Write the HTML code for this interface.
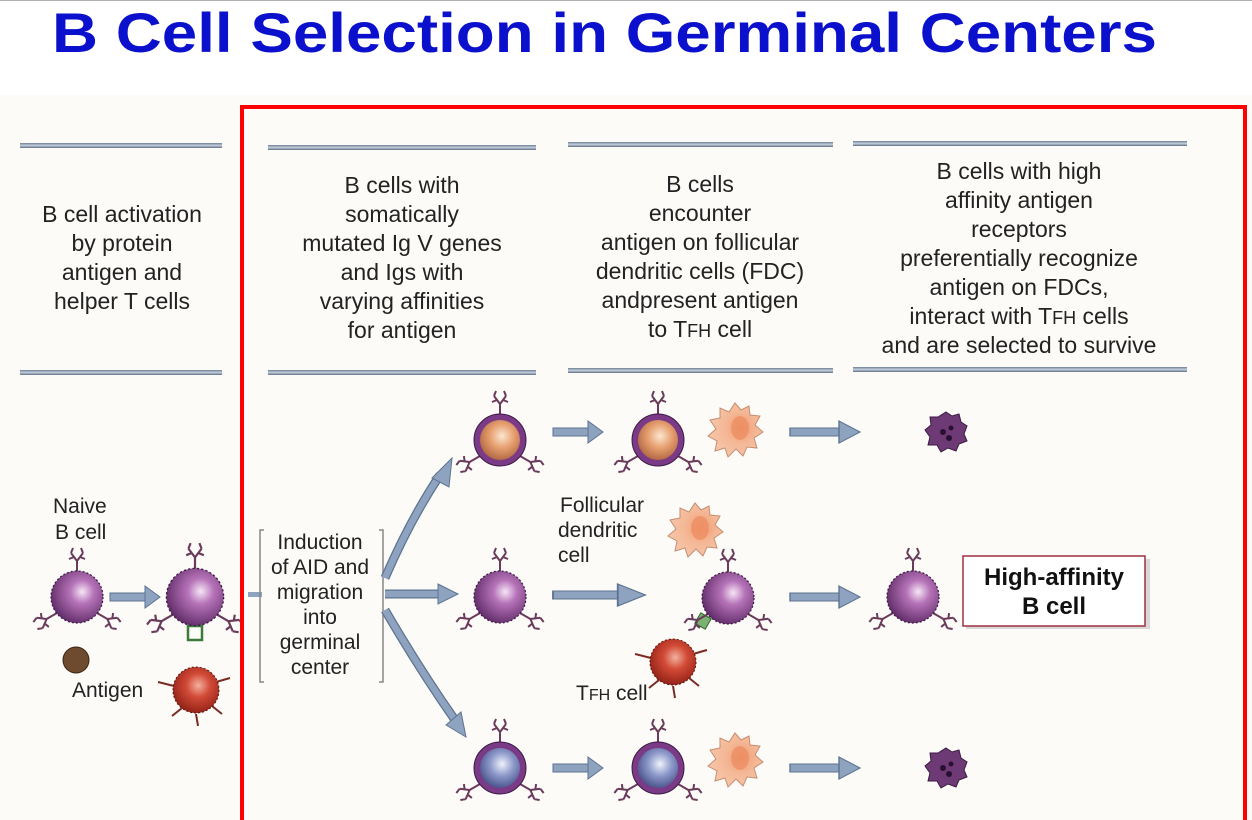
<!DOCTYPE html>
<html><head><meta charset="utf-8"><style>
html,body{margin:0;padding:0;background:#fff;}
body{width:1252px;height:820px;overflow:hidden;position:relative;font-family:"Liberation Sans",sans-serif;}
svg{position:absolute;left:0;top:0}
</style></head><body>
<svg width="1252" height="820" viewBox="0 0 1252 820" xmlns="http://www.w3.org/2000/svg">
<defs>
<radialGradient id="gp" cx="0.6" cy="0.4" r="0.65"><stop offset="0" stop-color="#f6e6f6"/><stop offset="0.35" stop-color="#b673b8"/><stop offset="1" stop-color="#5e2a66"/></radialGradient>
<radialGradient id="go" cx="0.55" cy="0.4" r="0.6"><stop offset="0" stop-color="#fbe6d0"/><stop offset="0.5" stop-color="#e7a070"/><stop offset="1" stop-color="#b46a45"/></radialGradient>
<radialGradient id="gb" cx="0.55" cy="0.4" r="0.6"><stop offset="0" stop-color="#f0f2fb"/><stop offset="0.5" stop-color="#8c98c9"/><stop offset="1" stop-color="#4d568e"/></radialGradient>
<radialGradient id="gr" cx="0.55" cy="0.4" r="0.65"><stop offset="0" stop-color="#f3b0a0"/><stop offset="0.4" stop-color="#d24a36"/><stop offset="1" stop-color="#8b1d14"/></radialGradient>
<radialGradient id="gf" cx="0.6" cy="0.45" r="0.6"><stop offset="0" stop-color="#f19a70"/><stop offset="0.5" stop-color="#f4b896"/><stop offset="1" stop-color="#f6c6aa"/></radialGradient>
<linearGradient id="bar" x1="0" y1="0" x2="0" y2="1"><stop offset="0" stop-color="#6d7f96"/><stop offset="0.5" stop-color="#c5cfdc"/><stop offset="1" stop-color="#5f6f85"/></linearGradient>
<g id="rec" fill="none" stroke="#6a3a5a" stroke-width="2">
<path d="M0 0 V-12 M0 -12 L-6 -20 M0 -12 L6 -20 M-3 -16 L-8 -14 M3 -16 L8 -14 M-6 -20 L-4 -25 M6 -20 L4 -25"/>
</g>
<g id="recs">
<use href="#rec" transform="translate(0,-24)"/>
<use href="#rec" transform="translate(-20,16) rotate(-120)"/>
<use href="#rec" transform="translate(20,16) rotate(120)"/>
</g>
<g id="cellp">
<use href="#recs"/>
<circle r="26" fill="url(#gp)" stroke="#3c1a44" stroke-width="1.2" stroke-dasharray="2 2"/>
</g>
<g id="cello">
<use href="#recs"/>
<circle r="26" fill="#7a3a86" stroke="#3c1a44" stroke-width="1"/>
<circle r="20" fill="url(#go)"/>
</g>
<g id="cellb">
<use href="#recs"/>
<circle r="26" fill="#7a3a86" stroke="#3c1a44" stroke-width="1"/>
<circle r="20" fill="url(#gb)"/>
</g>
<g id="fdc">
<path d="M0 -27 L6 -20 L14 -24 L15 -15 L25 -14 L20 -5 L28 2 L19 8 L22 18 L12 17 L8 26 L1 19 L-7 27 L-10 18 L-20 21 L-18 11 L-27 6 L-19 -1 L-25 -10 L-15 -12 L-15 -22 L-6 -18 Z" fill="url(#gf)" stroke="#c58d70" stroke-width="1"/>
<ellipse cx="5" cy="-2" rx="9" ry="12" fill="#ec8a60" opacity="0.7"/>
</g>
<g id="dead">
<path d="M0 -20 L6 -16 L13 -18 L15 -10 L21 -6 L18 2 L21 9 L13 12 L10 19 L2 16 L-5 20 L-9 13 L-18 13 L-16 5 L-21 -2 L-15 -7 L-16 -15 L-8 -15 Z" fill="#6e3a76" stroke="#3a1a40"/>
<circle cx="-3" cy="0" r="3" fill="#2a1030"/><circle cx="5" cy="-4" r="2.5" fill="#2a1030"/><circle cx="3" cy="6" r="3" fill="#2a1030"/>
</g>
<g id="tcell">
<path d="M-14 18 L-24 26 M0 24 L2 36 M16 16 L26 24 M-22 -4 L-38 -8 M20 -8 L34 -12" stroke="#7a2a22" stroke-width="2" fill="none"/>
<circle r="23" fill="url(#gr)" stroke="#5a140e" stroke-dasharray="2 2"/>
</g>
<g id="arr"><rect x="0" y="-4" width="38" height="8" fill="#8ea3bf" stroke="#5e7390" stroke-width="1"/><path d="M35 -11 L50 0 L35 11 Z" fill="#8ea3bf" stroke="#5e7390"/></g>
</defs>

<rect x="0" y="0" width="1252" height="820" fill="#ffffff"/>
<rect x="0" y="95" width="1252" height="725" fill="#fcfbf8"/>
<line x1="0" y1="0.5" x2="1252" y2="0.5" stroke="#b0b0b0"/>
<text x="52" y="52" textLength="1105" lengthAdjust="spacingAndGlyphs" font-family="Liberation Sans,sans-serif" font-weight="bold" font-size="56" fill="#0a10cc">B Cell Selection in Germinal Centers</text>

<g fill="url(#bar)">
<rect x="20" y="143" width="202" height="5"/><rect x="20" y="370" width="202" height="5"/>
<rect x="268" y="145" width="268" height="5"/><rect x="268" y="370" width="268" height="5"/>
<rect x="568" y="142" width="265" height="5"/><rect x="568" y="368" width="265" height="5"/>
<rect x="853" y="141" width="334" height="5"/><rect x="853" y="367" width="334" height="5"/>
</g>
<g font-family="Liberation Sans,sans-serif" font-size="23" fill="#222" text-anchor="middle">
<text x="122" y="222">B cell activation</text><text x="122" y="251">by protein</text><text x="122" y="280">antigen and</text><text x="122" y="309">helper T cells</text>
<text x="402" y="193">B cells with</text><text x="402" y="222">somatically</text><text x="402" y="251">mutated Ig V genes</text><text x="402" y="280">and Igs with</text><text x="402" y="309">varying affinities</text><text x="402" y="338">for antigen</text>
<text x="700" y="192">B cells</text><text x="700" y="221">encounter</text><text x="700" y="250">antigen on follicular</text><text x="700" y="279">dendritic cells (FDC)</text><text x="700" y="308">andpresent antigen</text><text x="700" y="337">to T<tspan font-size="18">FH</tspan> cell</text>
<text x="1019" y="179">B cells with high</text><text x="1019" y="208">affinity antigen</text><text x="1019" y="237">receptors</text><text x="1019" y="266">preferentially recognize</text><text x="1019" y="295">antigen on FDCs,</text><text x="1019" y="324">interact with T<tspan font-size="18">FH</tspan> cells</text><text x="1019" y="353">and are selected to survive</text>
</g>

<g font-family="Liberation Sans,sans-serif" font-size="21" fill="#222">
<text x="53" y="513">Naive</text><text x="55" y="539">B cell</text>
<text x="72" y="697">Antigen</text>
<text x="560" y="512">Follicular</text><text x="558" y="537">dendritic</text><text x="558" y="562">cell</text>
<text x="576" y="700">T<tspan font-size="16">FH</tspan> cell</text>
</g>
<use href="#cellp" transform="translate(77,597)"/>
<circle cx="76" cy="660" r="13" fill="#6e4a2e" stroke="#3a2416"/>
<use href="#arr" transform="translate(110,597)"/>
<use href="#tcell" transform="translate(196,690)"/>
<rect x="188" y="626" width="14" height="14" fill="none" stroke="#3a7a3a" stroke-width="2.5"/>
<use href="#cellp" transform="translate(195,597) scale(1.1)"/>

<rect x="248" y="592" width="14" height="5" fill="#8ea3bf"/>
<path d="M264 530 H260 V682 H264 M379 530 H383 V682 H379" fill="none" stroke="#888" stroke-width="1.5"/>
<g font-family="Liberation Sans,sans-serif" font-size="21" fill="#222" text-anchor="middle">
<text x="320" y="549">Induction</text><text x="320" y="574">of AID and</text><text x="320" y="599">migration</text><text x="320" y="624">into</text><text x="320" y="649">germinal</text><text x="320" y="674">center</text>
</g>
<g fill="none" stroke="#5e7390" stroke-width="9">
<path d="M385 578 Q410 520 440 475"/><path d="M385 594 H440"/><path d="M385 610 Q420 670 455 720"/>
</g>
<g fill="none" stroke="#8ea3bf" stroke-width="6.5">
<path d="M385 578 Q410 520 440 475"/><path d="M385 594 H440"/><path d="M385 610 Q420 670 455 720"/>
</g>
<g fill="#8ea3bf" stroke="#5e7390">
<path d="M432 478 L452 458 L449 487 Z"/><path d="M438 584 L458 594 L438 604 Z"/><path d="M446 725 L466 737 L461 712 Z"/>
</g>

<use href="#cello" transform="translate(500,440)"/>
<use href="#arr" transform="translate(553,432)"/>
<use href="#cello" transform="translate(658,440)"/>
<use href="#fdc" transform="translate(735,430)"/>
<use href="#arr" transform="translate(790,432) scale(1.4,1)"/>
<use href="#dead" transform="translate(946,432)"/>

<use href="#cellp" transform="translate(500,597)"/>
<use href="#arr" transform="translate(553,595) scale(1.85,1)"/>
<use href="#fdc" transform="translate(695,530)"/>
<use href="#tcell" transform="translate(673,662)"/>
<rect x="697" y="615" width="12" height="12" fill="#7ab070" stroke="#2a6a2a" transform="rotate(30 703 621)"/>
<use href="#cellp" transform="translate(728,598)"/>
<use href="#arr" transform="translate(790,597) scale(1.4,1)"/>
<use href="#cellp" transform="translate(913,597)"/>
<rect x="966" y="559" width="184" height="70" fill="#d8d8d8"/>
<rect x="963" y="556" width="182" height="70" fill="#fff" stroke="#a03040" stroke-width="1.5"/>
<text x="1054" y="585" text-anchor="middle" font-family="Liberation Sans,sans-serif" font-weight="bold" font-size="24" fill="#111">High-affinity</text>
<text x="1054" y="614" text-anchor="middle" font-family="Liberation Sans,sans-serif" font-weight="bold" font-size="24" fill="#111">B cell</text>

<use href="#cellb" transform="translate(500,768)"/>
<use href="#arr" transform="translate(553,768)"/>
<use href="#cellb" transform="translate(658,768)"/>
<use href="#fdc" transform="translate(735,760)"/>
<use href="#arr" transform="translate(790,768) scale(1.4,1)"/>
<use href="#dead" transform="translate(946,768)"/>

<path d="M242 822 V107 H1245 V822" fill="none" stroke="#ff0000" stroke-width="4"/>
</svg>
</body></html>
